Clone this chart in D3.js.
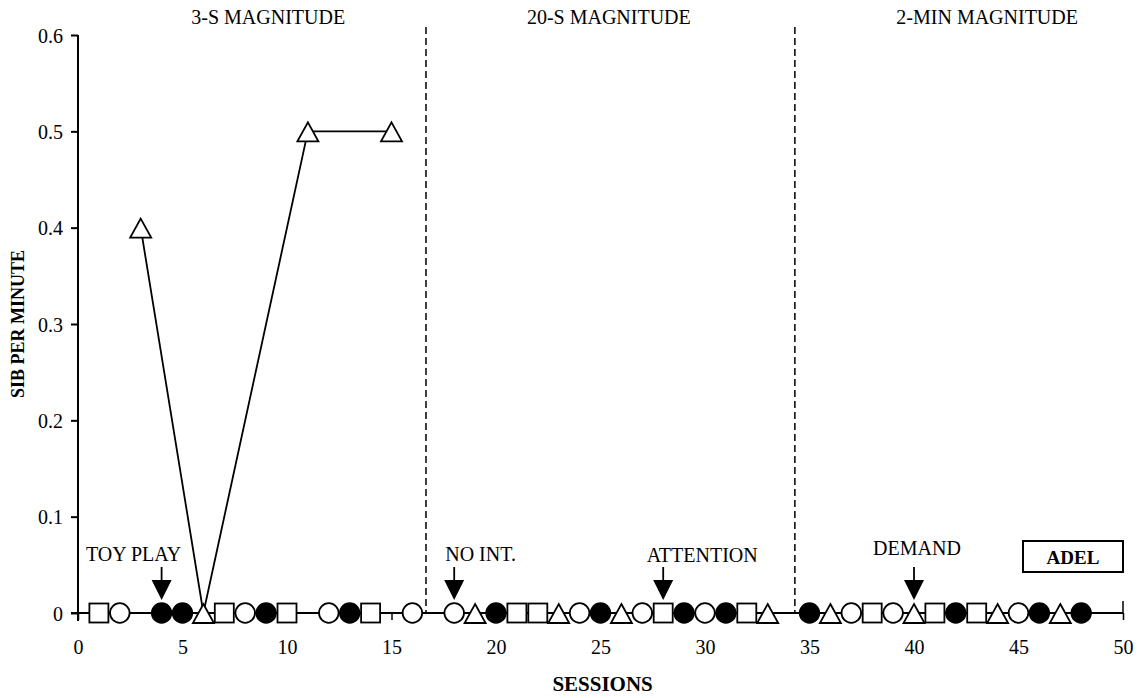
<!DOCTYPE html>
<html>
<head>
<meta charset="utf-8">
<script src="https://cdn.jsdelivr.net/npm/d3@7"></script>
<style>
  html, body { margin: 0; padding: 0; background: #fff; }
  svg { display: block; }
  svg text { font-family: 'Liberation Serif', 'Times New Roman', Times, serif !important; fill: #000; }
</style>
</head>
<body>
<svg id="chart" width="1143" height="698"></svg>
<script>
// ---------------- DATA ----------------
const xTicks = [0, 5, 10, 15, 20, 25, 30, 35, 40, 45, 50];
const yTicks = [0, 0.1, 0.2, 0.3, 0.4, 0.5, 0.6];
const yTickLabels = ["0", "0.1", "0.2", "0.3", "0.4", "0.5", "0.6"];

const phaseBreaks = [16.65, 34.3];
const phaseLabels = ["3-S MAGNITUDE", "20-S MAGNITUDE", "2-MIN MAGNITUDE"];
const phaseLabelCenters = [9.1, 25.4, 43.5]; // in session units

// Each series: sessions per phase and SIB per minute per phase
const noIntSessions = [[2, 8, 12, 16], [18, 24, 27, 30], [37, 39, 45]];
const noIntValues   = [[0, 0, 0, 0],   [0, 0, 0, 0],     [0, 0, 0]];

const toyPlaySessions = [[4, 5, 9, 13], [20, 25, 29, 31], [35, 42, 46, 48]];
const toyPlayValues   = [[0, 0, 0, 0],  [0, 0, 0, 0],     [0, 0, 0, 0]];

const attentionSessions = [[1, 7, 10, 14], [21, 22, 28, 32], [38, 41, 43]];
const attentionValues   = [[0, 0, 0, 0],   [0, 0, 0, 0],     [0, 0, 0]];

const demandSessions = [[3, 6, 11, 15], [19, 23, 26, 33], [36, 40, 44, 47]];
const demandValues   = [[0.4, 0, 0.5, 0.5], [0, 0, 0, 0], [0, 0, 0, 0]];

const arrowSessions = [4, 18, 28, 40];
const arrowLabels = ["TOY PLAY", "NO INT.", "ATTENTION", "DEMAND"];

const participant = "ADEL";

// ---------------- CHART ----------------
const FONT = "'Liberation Serif', 'Times New Roman', Times, serif";
const svg = d3.select("#chart");
const x = d3.scaleLinear().domain([0, 50]).range([78, 1123]);
const y = d3.scaleLinear().domain([0, 0.6]).range([613, 35]);

// phase change lines
svg.selectAll(".phase").data(phaseBreaks).enter().append("line")
  .attr("x1", d => x(d)).attr("x2", d => x(d))
  .attr("y1", 27).attr("y2", y(0))
  .attr("stroke", "#000").attr("stroke-width", 1.5)
  .attr("stroke-dasharray", "7,4");

// phase labels
svg.selectAll(".plabel").data(phaseLabels).enter().append("text")
  .attr("x", (d, i) => x(phaseLabelCenters[i]))
  .attr("y", 24)
  .attr("text-anchor", "middle")
  .style("font-family", FONT).style("font-size", "20px")
  .text(d => d);

// y axis
const yAxis = d3.axisLeft(y).tickValues(yTicks)
  .tickFormat((d, i) => yTickLabels[i]).tickSize(7).tickPadding(8);
const gy = svg.append("g").attr("transform", `translate(${x(0)},0)`).call(yAxis);
gy.attr("font-family", null).attr("font-size", null);
gy.select(".domain").attr("stroke-width", 2).attr("d", `M0,${y(0.6)}V${y(0) + 8}`);
gy.selectAll(".tick line").attr("stroke-width", 2);
gy.selectAll(".tick text").style("font-family", FONT).style("font-size", "20px").attr("dy", "0.35em");

// x axis
const xAxis = d3.axisBottom(x).tickValues(xTicks).tickFormat(d3.format("d"))
  .tickSize(7).tickPadding(20);
const gx = svg.append("g").attr("transform", `translate(0,${y(0)})`).call(xAxis);
gx.attr("font-family", null).attr("font-size", null);
gx.select(".domain").attr("stroke-width", 2).attr("d", `M${x(0) - 7},0H${x(50)}`);
gx.selectAll(".tick line").attr("stroke-width", 1.5);
gx.selectAll(".tick text").style("font-family", FONT).style("font-size", "20px");
gx.append("line").attr("x1", x(50)).attr("x2", x(50)).attr("y1", 0).attr("y2", -12)
  .attr("stroke", "#000").attr("stroke-width", 1.5);

// axis titles
svg.append("text").attr("x", x(25.1)).attr("y", 691)
  .attr("text-anchor", "middle")
  .style("font-family", FONT).style("font-size", "21px").style("font-weight", "bold")
  .text("SESSIONS");
svg.append("text")
  .attr("transform", `translate(24,${y(0.3)}) rotate(-90)`)
  .attr("text-anchor", "middle")
  .style("font-family", FONT).style("font-size", "18px").style("font-weight", "bold")
  .text("SIB PER MINUTE");

// series
const series = [
  { name: "noInt", sessions: noIntSessions, values: noIntValues, shape: "circle", fill: "#fff" },
  { name: "toyPlay", sessions: toyPlaySessions, values: toyPlayValues, shape: "circle", fill: "#000" },
  { name: "attention", sessions: attentionSessions, values: attentionValues, shape: "square", fill: "#fff" },
  { name: "demand", sessions: demandSessions, values: demandValues, shape: "triangle", fill: "#fff" }
];

const line = d3.line().x(d => x(d[0])).y(d => y(d[1]));

series.forEach(s => {
  s.sessions.forEach((ph, pi) => {
    const pts = ph.map((ss, i) => [ss, s.values[pi][i]]);
    svg.append("path").datum(pts).attr("d", line)
      .attr("fill", "none").attr("stroke", "#000").attr("stroke-width", 1.8);
  });
});

const allPts = [];
series.forEach(s => {
  s.sessions.forEach((ph, pi) => ph.forEach((ss, i) =>
    allPts.push({ s: ss, v: s.values[pi][i], shape: s.shape, fill: s.fill })));
});

allPts.forEach(p => {
  const cx = x(p.s), cy = y(p.v);
  if (p.shape === "circle") {
    svg.append("circle").attr("cx", cx).attr("cy", cy).attr("r", 9.8)
      .attr("fill", p.fill).attr("stroke", "#000").attr("stroke-width", 1.8);
  } else if (p.shape === "square") {
    svg.append("rect").attr("x", cx - 9.5).attr("y", cy - 9.5)
      .attr("width", 19).attr("height", 19)
      .attr("fill", p.fill).attr("stroke", "#000").attr("stroke-width", 1.8);
  } else {
    svg.append("path")
      .attr("d", `M${cx},${cy - 9}L${cx + 10.5},${cy + 10}L${cx - 10.5},${cy + 10}Z`)
      .attr("fill", p.fill).attr("stroke", "#000").attr("stroke-width", 1.8)
      .attr("stroke-linejoin", "miter");
  }
});

// arrows and condition labels
const labelOffsets = [-28, 0, 39, 3];
const labelAnchors = ["middle", "start", "middle", "middle"];
const labelBaselines = [561, 561, 562, 555];
arrowSessions.forEach((ss, i) => {
  const ax = x(ss);
  svg.append("line").attr("x1", ax).attr("x2", ax).attr("y1", 567).attr("y2", 582)
    .attr("stroke", "#000").attr("stroke-width", 1.8);
  svg.append("path").attr("d", `M${ax - 10},580L${ax + 10},580L${ax},600Z`).attr("fill", "#000");
  svg.append("text")
    .attr("x", labelAnchors[i] === "start" ? ax - 9 : ax + labelOffsets[i])
    .attr("y", labelBaselines[i])
    .attr("text-anchor", labelAnchors[i])
    .style("font-family", FONT).style("font-size", "20px")
    .text(arrowLabels[i]);
});

// participant box
svg.append("rect").attr("x", 1023).attr("y", 541).attr("width", 100).attr("height", 31)
  .attr("fill", "#fff").attr("stroke", "#000").attr("stroke-width", 2);
svg.append("text").attr("x", 1073).attr("y", 564).attr("text-anchor", "middle")
  .style("font-family", FONT).style("font-size", "19px").style("font-weight", "bold")
  .text(participant);
</script>
</body>
</html>
